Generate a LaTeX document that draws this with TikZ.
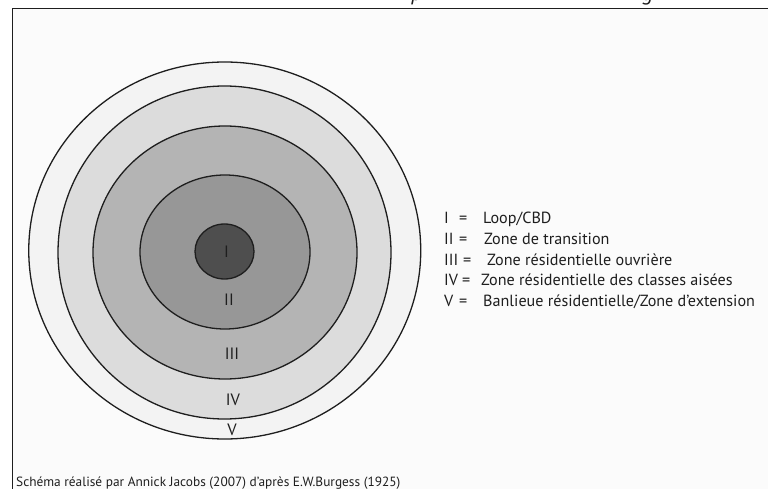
\documentclass[tikz,border=0pt]{standalone}
\usepackage{fontspec}
\setmainfont{PT Sans}
\definecolor{zoneV}{HTML}{F3F3F3}
\definecolor{zoneIV}{HTML}{DCDCDC}
\definecolor{zoneIII}{HTML}{B4B4B4}
\definecolor{zoneII}{HTML}{979797}
\definecolor{zoneI}{HTML}{4E4E4E}
\definecolor{inkdark}{HTML}{1E1E1E}
\definecolor{paper}{HTML}{FBFBFB}
\begin{document}
\begin{tikzpicture}[x=1bp,y=-1bp,
  ring/.style={draw=inkdark, line width=1.3bp},
  zlabel/.style={font=\fontsize{16.5}{19}\selectfont, text=inkdark, inner sep=0pt},
  legend/.style={font=\fontsize{16.2}{19}\selectfont, anchor=base west, inner sep=0pt, text=inkdark},
  credit/.style={font=\fontsize{13.4}{16}\selectfont, anchor=base west, inner sep=0pt, text=inkdark},
  cuttitle/.style={font=\itshape\fontsize{22}{26}\selectfont, anchor=base, inner sep=0pt, text=inkdark}
]
\useasboundingbox (0,0) rectangle (768,489);
\clip (0,0) rectangle (768,489);
\fill[white] (0,0) rectangle (768,489);

% title line above the frame, only its descenders remain in view
\node[cuttitle] (titlep) at (417,1) {p};
\node[cuttitle] (titleg) at (648,1) {g};

% frame
\fill[paper] (12.5,8.5) rectangle (768,489);
\draw[inkdark, line width=1.6bp] (12.5,489) -- (12.5,8.5) -- (768,8.5);

% concentric zones, outermost first
\draw[ring, fill=zoneV]   (224.75,250.5) ellipse [x radius=196,   y radius=188.5];
\draw[ring, fill=zoneIV]  (224.5,252.5)  ellipse [x radius=166.5, y radius=166.5];
\draw[ring, fill=zoneIII] (225,252.5)    ellipse [x radius=132,   y radius=126.5];
\draw[ring, fill=zoneII]  (225,252)      ellipse [x radius=85,    y radius=77];
\draw[ring, fill=zoneI]   (224.5,251.5)  ellipse [x radius=29.5,  y radius=27.5];

% zone numerals
\node[zlabel] (lI)   at (226.5,251.5) {I};
\node[zlabel] (lII)  at (229,300)     {II};
\node[zlabel] (lIII) at (232,354)     {III};
\node[zlabel] (lIV)  at (233,400)     {IV};
\node[zlabel] (lV)   at (232,430)     {V};

% legend
\node[legend] (n1) at (444,223.5) {I};
\node[legend] (e1) at (459,223.5) {=};
\node[legend] (t1) at (483,223.5) {Loop/CBD};
\node[legend] (n2) at (444,244.3) {II};
\node[legend] (e2) at (459,244.3) {=};
\node[legend] (t2) at (484,244.3) {Zone de transition};
\node[legend] (n3) at (444,265.1) {III};
\node[legend] (e3) at (463,265.1) {=};
\node[legend] (t3) at (487,265.1) {Zone résidentielle ouvrière};
\node[legend] (n4) at (444,285.9) {IV};
\node[legend] (e4) at (462,285.9) {=};
\node[legend] (t4) at (481,285.9) {Zone résidentielle des classes aisées};
\node[legend] (n5) at (444,306.7) {V};
\node[legend] (e5) at (459,306.7) {=};
\node[legend] (t5) at (483,306.7) {Banlieue résidentielle/Zone d'extension};

% credit line
\node[credit] (src) at (16,486.5) {Schéma réalisé par Annick Jacobs (2007) d'après E.W.Burgess (1925)};
\end{tikzpicture}
\end{document}
